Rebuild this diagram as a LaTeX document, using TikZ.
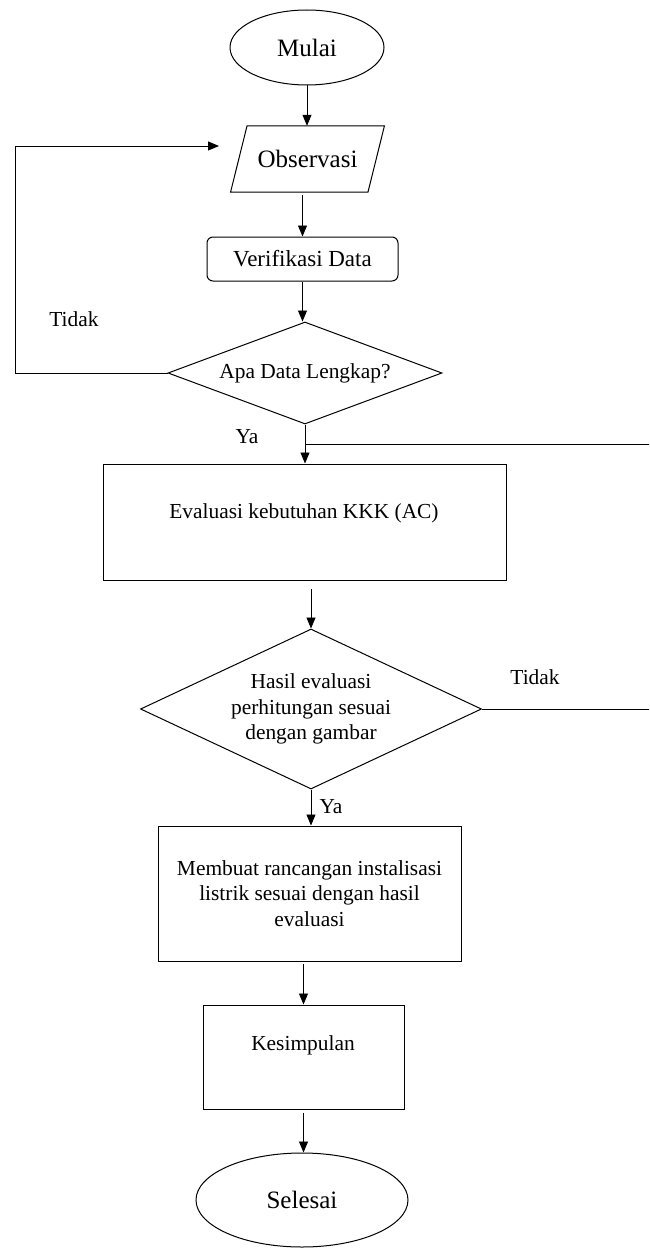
\documentclass[tikz,border=0pt]{standalone}
\usepackage{fontspec}
\setmainfont{Liberation Serif}
\usetikzlibrary{shapes.geometric,arrows.meta}

\begin{document}
\begin{tikzpicture}[x=1pt,y=-1pt,
  box/.style={draw, line width=1pt, inner sep=0pt},
  conn/.style={line width=0.9pt, -{Triangle[length=11pt,width=9pt]}},
  plain/.style={line width=0.9pt},
  lbl/.style={font=\fontsize{21.4}{25.5}\selectfont, inner sep=0pt},
  big/.style={font=\fontsize{25}{30}\selectfont},
]
\useasboundingbox (0,0) rectangle (649,1252);
\clip (0,0) rectangle (649,1252);

% terminals, process boxes and decisions
\node[box, ellipse, minimum width=154pt, minimum height=75pt, big] (mul) at (307,47.5) {Mulai};
% input/output parallelogram drawn around a plain node
\node[inner sep=0pt, minimum width=137pt, minimum height=66pt, big] (obs) at (307.5,159) {Observasi};
\draw[line width=1pt, line join=miter]
  ([xshift=-8.25pt]obs.south west) -- ([xshift=-8.25pt]obs.south east) --
  ([xshift=8.25pt]obs.north east) -- ([xshift=8.25pt]obs.north west) -- cycle;
\node[box, rounded corners=6pt, minimum width=191pt, minimum height=44pt,
      font=\fontsize{23}{27}\selectfont] (ver) at (302.5,259) {Verifikasi Data};
\node[box, diamond, shape aspect=2.69, minimum width=274pt, minimum height=102pt, lbl] (d1) at (305,373) {Apa Data Lengkap?};
\node[box, minimum width=403pt, minimum height=116pt] (ev) at (304.5,522) {};
\node[lbl] (evt) at (304,513) {Evaluasi kebutuhan KKK (AC)};
\node[box, diamond, shape aspect=2.13, minimum width=341pt, minimum height=160pt, lbl, align=center] (d2) at (311,709)
  {Hasil evaluasi\\perhitungan sesuai\\dengan gambar};
\node[box, minimum width=303pt, minimum height=135pt, lbl, align=center] (mb) at (309.5,893.5)
  {Membuat rancangan instalisasi\\listrik sesuai dengan hasil\\evaluasi};
\node[box, minimum width=201pt, minimum height=104pt] (ks) at (303.5,1057) {};
\node[lbl] (kst) at (303,1045) {Kesimpulan};
\node[box, ellipse, minimum width=212pt, minimum height=94pt, big] (sel) at (302,1200) {Selesai};

% branch labels
\node[lbl] (t1) at (74,319) {Tidak};
\node[lbl] (y1) at (247,437) {Ya};
\node[lbl] (t2) at (535,677) {Tidak};
\node[lbl] (y2) at (331,807) {Ya};

% main flow
\draw[conn] (mul.south) -- (obs.north -| mul.south);
\draw[conn, shorten <=3pt] (ver.north |- obs.south) -- (ver.north);
\draw[conn] (ver.south) -- (ver.south |- d1.north);
\draw[conn] (d1.south) -- (d1.south |- ev.north);
\draw[conn, shorten <=8pt] (d2.north |- ev.south) -- (d2.north);
\draw[conn] (d2.south) -- (d2.south |- mb.north);
\draw[conn, shorten <=2pt] (ks.north |- mb.south) -- (ks.north);
\draw[conn, shorten <=3pt] (ks.south) -- (ks.south |- sel.north);

% "Tidak" loop back to Observasi
\coordinate (lc) at (15,146);
\coordinate (loopend) at (219,146);
\draw[conn] (d1.west) -| (lc) -- (loopend);

% "Tidak" return from the second decision, running past the right edge
\coordinate (jn) at (305,444);
\coordinate (rc) at (660,444);
\draw[plain] (d2.east) -| (rc) -- (jn);
\end{tikzpicture}
\end{document}
